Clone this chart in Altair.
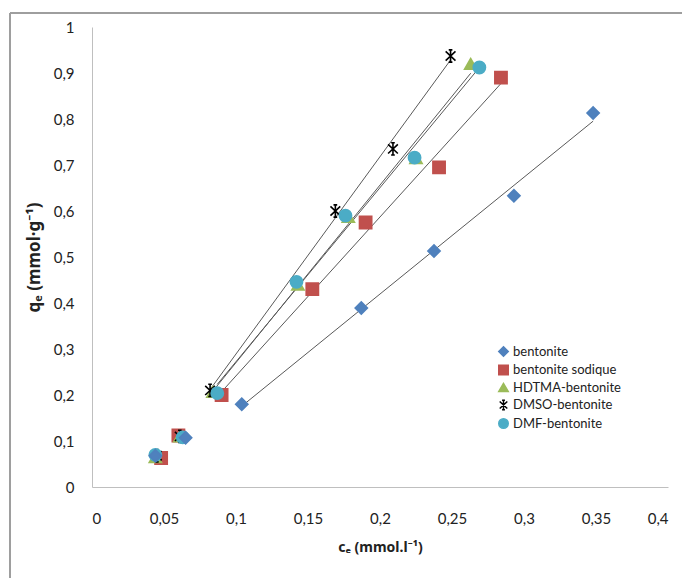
import altair as alt
import pandas as pd

series_names = ["bentonite", "bentonite sodique", "HDTMA-bentonite", "DMSO-bentonite", "DMF-bentonite"]

bent_x = [0.044, 0.065, 0.104, 0.187, 0.2375, 0.293, 0.348]
bent_y = [0.068, 0.107, 0.180, 0.389, 0.513, 0.633, 0.813]

sod_x = [0.048, 0.060, 0.090, 0.153, 0.190, 0.241, 0.284]
sod_y = [0.063, 0.112, 0.200, 0.430, 0.575, 0.695, 0.890]

hdt_x = [0.044, 0.061, 0.084, 0.143, 0.178, 0.225, 0.263]
hdt_y = [0.065, 0.110, 0.207, 0.440, 0.587, 0.715, 0.920]

dmso_x = [0.045, 0.061, 0.082, 0.169, 0.209, 0.249]
dmso_y = [0.068, 0.110, 0.210, 0.600, 0.735, 0.937]

dmf_x = [0.044, 0.063, 0.087, 0.142, 0.176, 0.224, 0.269]
dmf_y = [0.070, 0.108, 0.204, 0.446, 0.590, 0.716, 0.912]

colors = ["#4F81BD", "#C0504D", "#9BBB59", "#000000", "#4BACC6"]
asterisk = "M0,-1L0,1M-0.8,-0.75L0.8,0.75M-0.8,0.75L0.8,-0.75M-0.3,-1L0.3,-1M-0.3,1L0.3,1"
shapes = ["diamond", "square", "triangle-up", asterisk, "circle"]

rows = []
for xs, ys, name in [(sod_x, sod_y, series_names[1]), (hdt_x, hdt_y, series_names[2]),
                     (dmso_x, dmso_y, series_names[3]), (dmf_x, dmf_y, series_names[4]),
                     (bent_x, bent_y, series_names[0])]:
    for i, (x, y) in enumerate(zip(xs, ys)):
        rows.append({"ce": x, "qe": y, "serie": name, "idx": i})
df = pd.DataFrame(rows)

xscale = alt.Scale(domain=[0, 0.4], nice=False, zero=True)
yscale = alt.Scale(domain=[0, 1], nice=False)

font = "Lato"
tfont = "Noto Sans"

leg = alt.Legend(title=None, orient="none", legendX=405, legendY=318,
                 labelFont=font, labelFontSize=13, labelColor="#222222",
                 symbolSize=90, symbolStrokeWidth=1.5, rowPadding=1.5, labelOffset=3)

base = alt.Chart(df)

lines = base.transform_filter("datum.idx >= 2").transform_regression(
    "ce", "qe", groupby=["serie"]
).mark_line(color="#595959", strokeWidth=1).encode(
    x=alt.X("ce:Q", scale=xscale),
    y=alt.Y("qe:Q", scale=yscale),
    detail="serie:N",
)

points = base.mark_point(filled=True, size=150, strokeWidth=1.6, opacity=1).encode(
    x=alt.X("ce:Q", scale=xscale,
            axis=alt.Axis(values=[0, 0.05, 0.1, 0.15, 0.2, 0.25, 0.3, 0.35, 0.4],
                          labelExpr="replace(format(datum.value, ''), '.', ',')",
                          grid=False, ticks=False, domainColor="#BFBFBF",
                          labelFontSize=15, labelFont=font, labelColor="#222222",
                          labelPadding=24, titlePadding=14,
                          titleFont=tfont, titleFontSize=14, titleFontWeight="bold",
                          titleColor="#222222",
                          title="cₑ (mmol.l⁻¹)")),
    y=alt.Y("qe:Q", scale=yscale,
            axis=alt.Axis(values=[0, 0.1, 0.2, 0.3, 0.4, 0.5, 0.6, 0.7, 0.8, 0.9, 1],
                          labelExpr="replace(format(datum.value, ''), '.', ',')",
                          grid=False, ticks=False, domainColor="#BFBFBF",
                          labelFontSize=15, labelFont=font, labelColor="#222222",
                          labelPadding=18, titlePadding=10,
                          titleFont=tfont, titleFontSize=17, titleFontWeight="bold",
                          titleColor="#222222",
                          title="qₑ (mmol·g⁻¹)")),
    fill=alt.Fill("serie:N", scale=alt.Scale(domain=series_names, range=colors), legend=leg),
    stroke=alt.Stroke("serie:N", scale=alt.Scale(domain=series_names, range=colors), legend=leg),
    shape=alt.Shape("serie:N", scale=alt.Scale(domain=series_names, range=shapes), legend=leg),
    order=alt.Order("idx:Q"),
)

frame_top = alt.Chart(df).mark_rule(color="#9E9E9E", strokeWidth=1.5).encode(
    x=alt.value(-82), x2=alt.value(600), y=alt.value(-14)
)
frame_left = alt.Chart(df).mark_rule(color="#9E9E9E", strokeWidth=1.5).encode(
    x=alt.value(-82), y=alt.value(-14), y2=alt.value(560)
)

chart = alt.layer(frame_top, frame_left, lines, points).properties(
    width=576, height=460,
    autosize=alt.AutoSizeParams(type="none"),
    padding={"left": 92, "top": 27, "right": 14, "bottom": 91},
).configure_view(stroke=None)

chart.save("out.html", embed_options={"renderer": "svg", "actions": False})
